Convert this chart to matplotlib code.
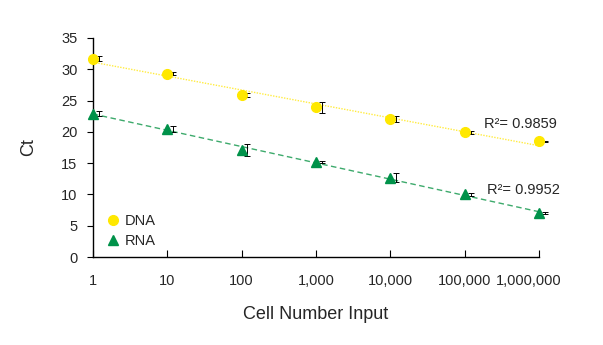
import matplotlib.pyplot as plt
import matplotlib.transforms as mtransforms
import numpy as np

plt.rcParams['font.family'] = ['Liberation Sans', 'DejaVu Sans']
plt.rcParams['text.color'] = '#262626'
plt.rcParams['axes.labelcolor'] = '#262626'
plt.rcParams['xtick.labelcolor'] = '#262626'
plt.rcParams['ytick.labelcolor'] = '#262626'

cells = [1, 10, 100, 1000, 10000, 100000, 1000000]
tick_labels = ['1', '10', '100', '1,000', '10,000', '100,000', '1,000,000']
dna_ct = [31.7, 29.3, 25.9, 23.9, 22.0, 19.9, 18.5]
dna_err = [0.4, 0.2, 0.3, 0.9, 0.5, 0.2, 0.1]
rna_ct = [22.9, 20.4, 17.1, 15.2, 12.7, 10.0, 7.0]
rna_err = [0.4, 0.5, 0.9, 0.2, 0.7, 0.2, 0.2]
dna_r2 = '0.9859'
rna_r2 = '0.9952'

yellow = '#FFE800'
green = '#00924A'

fig = plt.figure(figsize=(6.03, 3.45), dpi=100)
ax = fig.add_axes([0.154, 0.255, 0.74, 0.635])

x = np.array(cells, dtype=float)
lx = np.log10(x)

# log-linear trend lines
for ct, col, ls in [(dna_ct, '#FFEC40', (0, (1, 1))), (rna_ct, '#3DAA6C', (0, (4, 2.5)))]:
    k, b = np.polyfit(lx, ct, 1)
    ax.plot(x, k * lx + b, color=col, lw=1.0, ls=ls, zorder=2, clip_on=False)

# error bars sit slightly right of each point
for ct, err in [(dna_ct, dna_err), (rna_ct, rna_err)]:
    ax.errorbar(x * 1.2, ct, yerr=err, fmt='none', ecolor='black',
                elinewidth=0.7, capsize=2, capthick=0.7, zorder=3, clip_on=False)

ax.plot(x, dna_ct, 'o', color=yellow, ms=7, mec=yellow, label='DNA', zorder=4, clip_on=False)
ax.plot(x, rna_ct, '^', color=green, ms=7, mec=green, label='RNA', zorder=4, clip_on=False)

ax.text(10 ** 5.26, 21.2, 'R\u00b2= ' + dna_r2, fontsize=10.5, va='center', ha='left')
ax.text(10 ** 5.30, 10.7, 'R\u00b2= ' + rna_r2, fontsize=10.5, va='center', ha='left')

ax.set_xscale('log')
ax.set_xlim(1, 1e6)
ax.set_ylim(0, 35)
ax.set_xticks(cells)
ax.set_xticklabels(tick_labels)
ax.minorticks_off()
ax.set_yticks(range(0, 36, 5))

for s in ['top', 'right']:
    ax.spines[s].set_visible(False)
for s in ['left', 'bottom']:
    ax.spines[s].set_linewidth(1.0)

ax.tick_params(axis='x', direction='in', length=5, pad=12, labelsize=10.5)
ax.tick_params(axis='y', direction='out', length=4.5, pad=6.5, labelsize=10.5)

# pull the last label in so it stays inside the figure
last = ax.get_xticklabels()[-1]
last.set_transform(last.get_transform() + mtransforms.ScaledTranslation(-0.1, 0, fig.dpi_scale_trans))

ax.set_xlabel('Cell Number Input', fontsize=13, labelpad=13)
ax.set_ylabel('Ct', fontsize=13, labelpad=17)

ax.legend(loc='lower left', bbox_to_anchor=(0.0, 0.0), frameon=False, fontsize=10.5,
          handletextpad=0.0, borderaxespad=0.2, labelspacing=0.45, handlelength=1.6)

fig.savefig('out.png', dpi=100)
